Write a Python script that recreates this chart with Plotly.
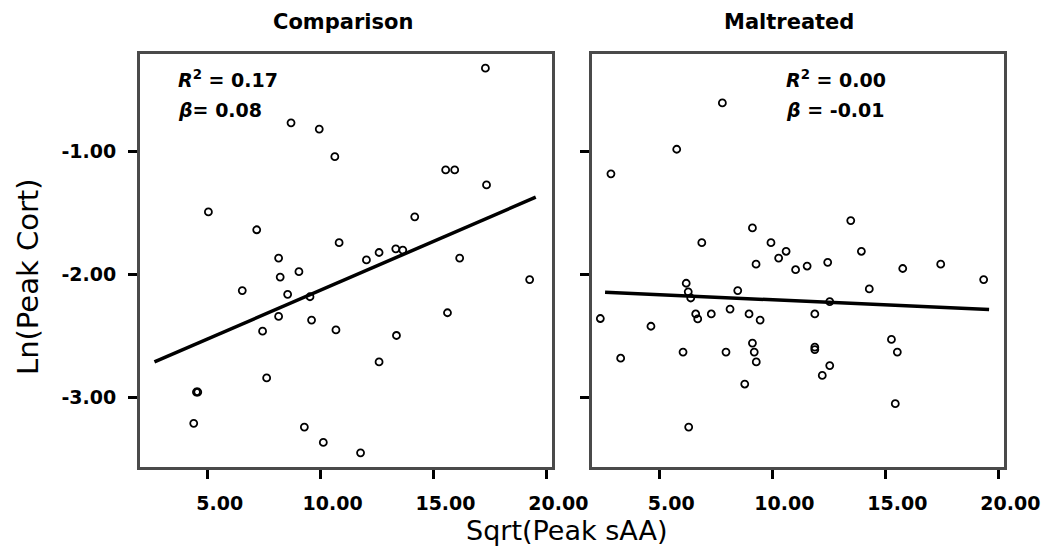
import plotly.graph_objects as go

# page body margin offsets the figure by ~8px; layout positions below are reference pixels
OFF = 8
W, H = 1054 - OFF, 553 - OFF

panel_titles = ["Comparison", "Maltreated"]
x_label = "Sqrt(Peak sAA)"
y_label = "Ln(Peak Cort)"
x_ticks = [5, 10, 15, 20]
x_ticklabels = ["5.00", "10.00", "15.00", "20.00"]
y_ticks = [-1, -2, -3]
y_ticklabels = ["-1.00", "-2.00", "-3.00"]

comp_x = [17.30, 8.69, 9.94, 10.63, 15.54, 15.94, 17.35, 5.03, 14.17, 7.17,
          10.82, 8.14, 12.03, 12.59, 13.33, 13.64, 16.16, 9.04, 8.21, 19.26,
          6.53, 8.54, 9.53, 8.14, 9.60, 7.43, 10.68, 15.62, 13.36, 12.59,
          7.61, 4.50, 4.56, 4.38, 9.28, 10.12, 11.77]
comp_y = [-0.32, -0.765, -0.816, -1.04, -1.148, -1.148, -1.27, -1.49, -1.53, -1.635,
          -1.74, -1.865, -1.88, -1.82, -1.79, -1.80, -1.865, -1.976, -2.02, -2.04,
          -2.13, -2.16, -2.18, -2.34, -2.37, -2.46, -2.45, -2.31, -2.495, -2.71,
          -2.84, -2.955, -2.955, -3.21, -3.24, -3.365, -3.45]

malt_x = [7.79, 5.77, 2.86, 13.47, 9.12, 6.88, 9.94, 10.61, 10.28, 13.94,
          9.28, 11.03, 11.54, 12.45, 15.77, 17.45, 19.35, 14.29, 6.19, 6.28,
          6.39, 8.47, 2.39, 4.63, 6.61, 6.70, 7.30, 8.13, 8.97, 9.46,
          11.88, 3.29, 6.05, 7.95, 9.12, 9.20, 9.29, 11.88, 11.88, 15.27,
          15.53, 12.54, 12.21, 8.78, 15.44, 6.30, 12.54]
malt_y = [-0.603, -0.98, -1.18, -1.56, -1.62, -1.74, -1.74, -1.81, -1.865, -1.81,
          -1.915, -1.96, -1.93, -1.90, -1.95, -1.915, -2.04, -2.116, -2.07, -2.14,
          -2.19, -2.13, -2.357, -2.42, -2.32, -2.36, -2.32, -2.28, -2.32, -2.37,
          -2.32, -2.68, -2.63, -2.63, -2.557, -2.63, -2.71, -2.59, -2.61, -2.527,
          -2.63, -2.74, -2.82, -2.89, -3.05, -3.24, -2.22]

comp_fit_x = [2.64, 19.53]
comp_fit_y = [-2.71, -1.37]
malt_fit_x = [2.60, 19.59]
malt_fit_y = [-2.143, -2.284]

stats_text = [["<i>R</i><sup>2</sup> = 0.17", "<i>β</i>= 0.08"],
              ["<i>R</i><sup>2</sup> = 0.00", "<i>β</i> = -0.01"]]

fig = go.Figure()

marker = dict(symbol="circle-open", size=7, color="black", line=dict(width=1.8, color="black"))

fig.add_trace(go.Scatter(x=comp_x, y=comp_y, mode="markers", marker=marker,
                         xaxis="x", yaxis="y", showlegend=False))
fig.add_trace(go.Scatter(x=comp_fit_x, y=comp_fit_y, mode="lines",
                         line=dict(color="black", width=3.5),
                         xaxis="x", yaxis="y", showlegend=False))
fig.add_trace(go.Scatter(x=malt_x, y=malt_y, mode="markers", marker=marker,
                         xaxis="x2", yaxis="y2", showlegend=False))
fig.add_trace(go.Scatter(x=malt_fit_x, y=malt_fit_y, mode="lines",
                         line=dict(color="black", width=3.5),
                         xaxis="x2", yaxis="y2", showlegend=False))

def px(v):
    return (v - OFF) / W

def py(v):
    return 1 - (v - OFF) / H

tick_font = dict(family="DejaVu Sans", size=19, color="black", weight="bold")
xr = [2.0, 20.25]
yr = [-3.565, -0.205]
ydom = [py(467), py(54)]

common_x = dict(range=xr, tickmode="array", tickvals=x_ticks, ticktext=x_ticklabels,
                showgrid=False, zeroline=False, showline=True, mirror=True,
                linecolor="#4a4a4a", linewidth=3, ticks="outside", ticklen=9,
                tickwidth=3, tickcolor="black", tickfont=tick_font,
                ticklabelshift=12, ticklabelstandoff=8, automargin=False)
common_y = dict(range=yr, tickmode="array", tickvals=y_ticks, ticktext=y_ticklabels,
                showgrid=False, zeroline=False, showline=True, mirror=True,
                linecolor="#4a4a4a", linewidth=3, ticks="outside", ticklen=9,
                tickwidth=3, tickcolor="black", tickfont=tick_font,
                ticklabelstandoff=8, automargin=False, domain=ydom)

fig.update_layout(
    width=W, height=H,
    margin=dict(l=0, r=0, t=0, b=0),
    paper_bgcolor="white", plot_bgcolor="white",
    xaxis=dict(domain=[px(140), px(552)], anchor="y", **common_x),
    yaxis=dict(anchor="x", **common_y),
    xaxis2=dict(domain=[px(591.5), px(1004)], anchor="y2", **common_x),
    yaxis2=dict(anchor="x2", showticklabels=False, **common_y),
)

title_font = dict(family="DejaVu Sans", size=21, color="black", weight="bold")
annots = []
for t, cx in zip(panel_titles, [342.5, 789]):
    annots.append(dict(text=t, x=px(cx), y=py(22), xref="paper", yref="paper",
                       xanchor="center", yanchor="middle", showarrow=False, font=title_font))

stat_font = dict(family="DejaVu Sans", size=19, color="black", weight="bold")
for lines, lx in zip(stats_text, [176, 784]):
    for line, cy in zip(lines, [79, 110]):
        annots.append(dict(text=line, x=px(lx), y=py(cy), xref="paper", yref="paper",
                           xanchor="left", yanchor="middle", showarrow=False, font=stat_font))

annots.append(dict(text=x_label, x=px(567), y=py(530), xref="paper", yref="paper",
                   xanchor="center", yanchor="middle", showarrow=False,
                   font=dict(family="DejaVu Sans", size=27, color="black")))
annots.append(dict(text=y_label, x=px(28), y=py(277), xref="paper", yref="paper",
                   xanchor="center", yanchor="middle", showarrow=False, textangle=-90,
                   font=dict(family="DejaVu Sans", size=29, color="black")))

fig.update_layout(annotations=annots)

fig.write_html("out.html")
